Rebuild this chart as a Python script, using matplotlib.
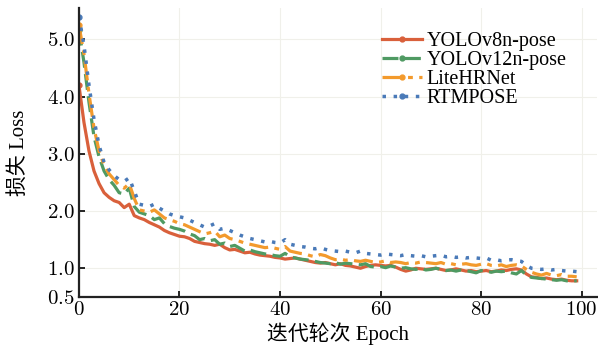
import matplotlib
matplotlib.use("Agg")
import matplotlib.pyplot as plt
from matplotlib.ticker import FixedLocator, FuncFormatter

plt.rcParams['font.family'] = ['Liberation Serif', 'Noto Sans CJK SC']
plt.rcParams['mathtext.fontset'] = 'cm'

epochs = list(range(100))

yolov8 = [4.20, 3.55, 3.05, 2.70, 2.48, 2.32, 2.24, 2.18, 2.15, 2.06,
          2.12, 1.92, 1.88, 1.85, 1.80, 1.76, 1.72, 1.66, 1.62, 1.59,
          1.56, 1.55, 1.52, 1.47, 1.45, 1.43, 1.42, 1.40, 1.42, 1.36,
          1.32, 1.33, 1.30, 1.27, 1.28, 1.25, 1.23, 1.22, 1.21, 1.19,
          1.18, 1.16, 1.17, 1.18, 1.16, 1.14, 1.12, 1.10, 1.09, 1.10,
          1.08, 1.06, 1.08, 1.05, 1.04, 1.02, 1.00, 1.03, 1.05, 1.06,
          1.05, 1.04, 1.05, 1.02, 0.98, 0.95, 0.97, 1.00, 0.99, 0.98,
          0.99, 1.00, 0.98, 0.96, 0.97, 0.99, 0.97, 0.95, 0.96, 0.94,
          0.95, 0.96, 0.94, 0.95, 0.97, 0.96, 0.98, 0.99, 0.97, 0.90,
          0.85, 0.84, 0.82, 0.83, 0.81, 0.80, 0.81, 0.79, 0.78, 0.78]

yolov12 = [5.17, 4.60, 3.90, 3.30, 2.95, 2.70, 2.55, 2.45, 2.32, 2.30,
           2.40, 2.08, 1.98, 1.95, 1.92, 1.85, 1.88, 1.78, 1.73, 1.70,
           1.68, 1.65, 1.60, 1.57, 1.50, 1.52, 1.48, 1.50, 1.42, 1.44,
           1.38, 1.40, 1.35, 1.30, 1.32, 1.29, 1.27, 1.25, 1.24, 1.22,
           1.21, 1.26, 1.20, 1.18, 1.16, 1.15, 1.14, 1.12, 1.10, 1.09,
           1.08, 1.10, 1.07, 1.09, 1.08, 1.07, 1.06, 1.08, 1.03, 1.02,
           1.03, 1.01, 1.04, 1.02, 1.00, 1.01, 0.99, 0.98, 1.00, 0.97,
           0.98, 1.00, 0.98, 0.96, 0.97, 0.95, 0.97, 0.96, 0.94, 0.92,
           0.96, 0.95, 0.93, 0.95, 0.94, 0.95, 0.92, 0.90, 0.96, 0.88,
           0.84, 0.83, 0.82, 0.81, 0.80, 0.79, 0.80, 0.78, 0.78, 0.78]

litehrnet = [5.25, 4.75, 4.05, 3.45, 3.05, 2.80, 2.65, 2.55, 2.45, 2.40,
             2.48, 2.22, 2.02, 2.00, 1.98, 2.02, 1.95, 1.88, 1.85, 1.82,
             1.78, 1.76, 1.72, 1.68, 1.64, 1.60, 1.62, 1.65, 1.55, 1.58,
             1.52, 1.50, 1.47, 1.44, 1.42, 1.40, 1.38, 1.36, 1.37, 1.35,
             1.33, 1.38, 1.30, 1.28, 1.26, 1.25, 1.22, 1.20, 1.24, 1.22,
             1.18, 1.15, 1.16, 1.14, 1.15, 1.13, 1.12, 1.14, 1.12, 1.10,
             1.11, 1.13, 1.10, 1.11, 1.10, 1.08, 1.10, 1.09, 1.11, 1.10,
             1.09, 1.08, 1.10, 1.07, 1.08, 1.06, 1.07, 1.08, 1.06, 1.05,
             1.07, 1.08, 1.05, 1.04, 1.06, 1.03, 1.05, 1.06, 1.04, 0.98,
             0.93, 0.90, 0.88, 0.91, 0.88, 0.87, 0.89, 0.86, 0.86, 0.85]

rtmpose = [5.40, 4.90, 4.20, 3.60, 3.15, 2.85, 2.72, 2.62, 2.55, 2.52,
           2.58, 2.35, 2.12, 2.10, 2.08, 2.12, 2.05, 2.00, 1.95, 1.92,
           1.90, 1.88, 1.84, 1.80, 1.76, 1.72, 1.74, 1.78, 1.68, 1.70,
           1.66, 1.62, 1.58, 1.55, 1.52, 1.50, 1.48, 1.46, 1.47, 1.45,
           1.44, 1.50, 1.42, 1.40, 1.38, 1.37, 1.35, 1.34, 1.36, 1.33,
           1.31, 1.30, 1.29, 1.30, 1.28, 1.27, 1.30, 1.26, 1.25, 1.24,
           1.23, 1.25, 1.24, 1.23, 1.22, 1.24, 1.22, 1.21, 1.22, 1.20,
           1.21, 1.22, 1.23, 1.20, 1.21, 1.19, 1.20, 1.18, 1.19, 1.18,
           1.17, 1.18, 1.14, 1.15, 1.13, 1.14, 1.15, 1.13, 1.12, 1.05,
           1.00, 0.99, 0.98, 0.99, 0.97, 0.98, 0.96, 0.95, 0.95, 0.94]

labels = ['YOLOv8n-pose', 'YOLOv12n-pose', 'LiteHRNet', 'RTMPOSE']
xticks = [0, 20, 40, 60, 80, 100]
yticks = [0.5, 1.0, 2.0, 3.0, 4.0, 5.0]

fig = plt.figure(figsize=(5.98, 3.48), dpi=100)
ax = fig.add_axes([0.132, 0.147, 0.866, 0.830])

styles = [
    dict(color='#d9603b', ls='-', lw=2.3),
    dict(color='#4f9a62', ls=(0, (5, 2)), lw=2.3),
    dict(color='#f39a2c', ls=(0, (6, 2, 1.5, 2)), lw=2.3),
    dict(color='#4a7ab8', ls=(0, (1, 2.2)), lw=2.5),
]
series = [yolov8, yolov12, litehrnet, rtmpose]
for s, lab, st in zip(series, labels, styles):
    ax.plot(epochs, s, label=lab, marker='o', markersize=3.5, markevery=[0],
            **st)

ax.set_xlim(0, 103)
ax.set_ylim(0.5, 5.55)
ax.xaxis.set_major_locator(FixedLocator(xticks))
ax.yaxis.set_major_locator(FixedLocator(yticks))
ax.xaxis.set_major_formatter(FuncFormatter(lambda v, p: r'$%d$' % v))
ax.yaxis.set_major_formatter(FuncFormatter(lambda v, p: r'$%.1f$' % v))
ax.tick_params(direction='in', length=4, width=1.2, labelsize=15, pad=3)
ax.grid(True, color='#f0f0ea', lw=0.8)
for side in ['top', 'right']:
    ax.spines[side].set_visible(False)
for side in ['left', 'bottom']:
    ax.spines[side].set_linewidth(1.6)
    ax.spines[side].set_color('#222222')

ax.set_xlabel('迭代轮次 Epoch', fontsize=15, labelpad=2)
ax.set_ylabel('损失 Loss', fontsize=15, labelpad=13)

leg = ax.legend(loc='upper left', bbox_to_anchor=(0.562, 0.96), frameon=False,
                fontsize=14.5, handlelength=2.0, handletextpad=0.2,
                labelspacing=0.0, borderaxespad=0.2)

fig.savefig('out.png', dpi=100)
